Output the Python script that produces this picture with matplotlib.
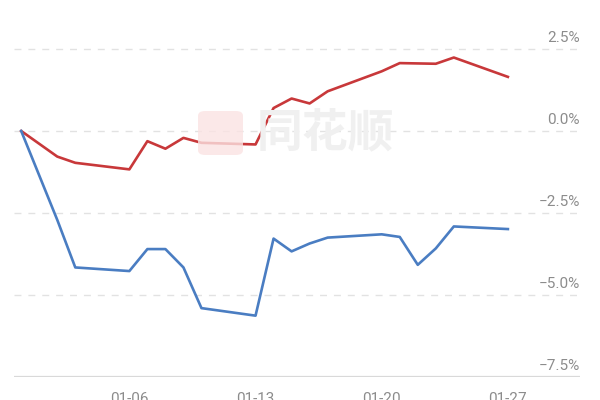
import matplotlib
matplotlib.use("Agg")
import matplotlib.pyplot as plt
from matplotlib.patches import FancyBboxPatch
import numpy as np
import datetime as dt

dates = ["12-31", "01-02", "01-03", "01-06", "01-07", "01-08", "01-09", "01-10",
         "01-13", "01-14", "01-15", "01-16", "01-17", "01-20", "01-21", "01-22",
         "01-23", "01-24", "01-27"]
red_vals = [0.00, -0.78, -0.97, -1.17, -0.31, -0.54, -0.21, -0.36,
            -0.41, 0.70, 0.99, 0.84, 1.21, 1.82, 2.07, 2.06,
            2.05, 2.24, 1.65]
blue_vals = [0.00, -2.71, -4.16, -4.27, -3.60, -3.60, -4.16, -5.40,
             -5.63, -3.28, -3.67, -3.43, -3.25, -3.15, -3.23, -4.08,
             -3.58, -2.91, -2.99]
ytick_vals = [2.5, 0.0, -2.5, -5.0, -7.5]
ytick_labels = ["2.5%", "0.0%", "\u22122.5%", "\u22125.0%", "\u22127.5%"]
xtick_labels = ["01-06", "01-13", "01-20", "01-27"]

def to_day(s):
    m, d = map(int, s.split("-"))
    y = 2024 if m == 12 else 2025
    return (dt.date(y, m, d) - dt.date(2024, 12, 31)).days

x = [to_day(s) for s in dates]
xt = [to_day(s) for s in xtick_labels]

W, H = 600, 400
fig = plt.figure(figsize=(6, 4), dpi=100)
fig.patch.set_facecolor("white")
left, right, bottom = 14, 580, 377
ax = fig.add_axes([left / W, 1 - bottom / H, (right - left) / W, bottom / H])
ax.set_facecolor("none")
ppu = (377 - 49) / 10.0
ax.set_ylim(-7.5, -7.5 + bottom / ppu)
ax.set_xlim(-0.4, 31.0)
for s in ax.spines.values():
    s.set_visible(False)
ax.set_xticks([])
ax.set_yticks([])

# grid lines and right-side labels
for v, lab in zip(ytick_vals, ytick_labels):
    if v == -7.5:
        ax.axhline(v, color="#d9d9d9", lw=1.6, zorder=1)
    else:
        ax.axhline(v, color="#e2e2e2", lw=1.0, ls=(0, (5, 5)), zorder=1)
    ax.annotate(lab, xy=(1.0, v), xycoords=("axes fraction", "data"),
                xytext=(0, 4), textcoords="offset pixels", ha="right", va="bottom",
                fontsize=11, color="#8c8c8c", family=["Roboto", "DejaVu Sans"])

# x tick labels (cut off at bottom as in reference)
for d, lab in zip(xt, xtick_labels):
    ax.annotate(lab, xy=(d, 0), xycoords=("data", "figure pixels"),
                xytext=(0, 8), textcoords="offset pixels", ha="center", va="top",
                fontsize=11, color="#8c8c8c", family=["Roboto", "DejaVu Sans"],
                annotation_clip=False)

# watermark
wm = FancyBboxPatch((198 / W, 1 - 155 / H), 45 / W, 44 / H,
                    boxstyle="round,pad=0,rounding_size=0.012",
                    transform=fig.transFigure, facecolor="#fbe3e3", edgecolor="none",
                    alpha=0.8, zorder=0)
fig.patches.append(wm)
fig.text(325 / W, 1 - 133 / H, "同花顺", ha="center", va="center", fontsize=33,
         fontweight="bold", color="#f0f0f0", family=["Noto Sans CJK SC", "DejaVu Sans"],
         zorder=0)

ax.plot(x, red_vals, color="#c8383a", lw=1.9, zorder=3, solid_joinstyle="round")
ax.plot(x, blue_vals, color="#4a7dc2", lw=1.9, zorder=3, solid_joinstyle="round")

fig.savefig("out.png", dpi=100)
